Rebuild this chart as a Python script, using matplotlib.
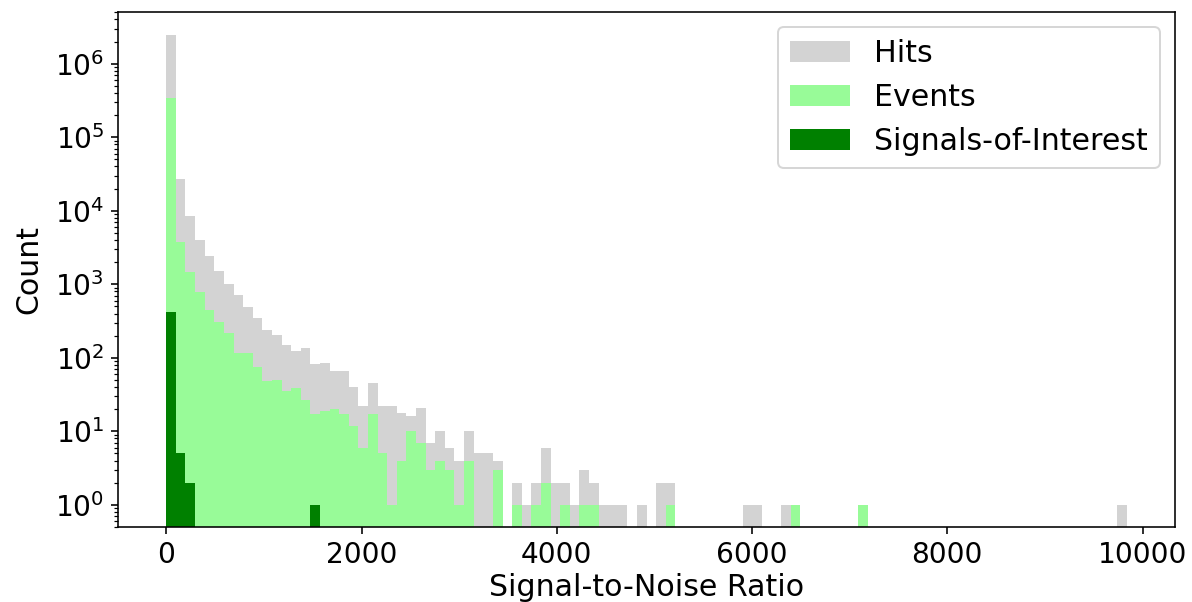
import matplotlib
matplotlib.use("Agg")
import matplotlib.pyplot as plt
import numpy as np

# histogram bin edges, 100 equal bins over the SNR range
snr_min = 0
snr_max = 9840
n_bins = 100

# counts per bin (index = bin number)
hits_counts = [
    2460000, 26800, 8580, 4050, 2450, 1535, 1020, 717, 497, 345,
    240, 205, 150, 122, 135, 82, 84, 66, 66, 40,
    22, 46, 22, 22, 18, 16, 21, 7, 10, 6,
    4, 10, 5, 5, 4, 0, 2, 1, 2, 6,
    2, 2, 1, 3, 2, 1, 1, 1, 0, 1,
    0, 2, 2, 0, 0, 0, 0, 0, 0, 0,
    1, 1, 0, 0, 1, 1, 0, 0, 0, 0,
    0, 0, 1, 0, 0, 0, 0, 0, 0, 0,
    0, 0, 0, 0, 0, 0, 0, 0, 0, 0,
    0, 0, 0, 0, 0, 0, 0, 0, 0, 1,
]
events_counts = [
    345000, 3800, 1458, 795, 448, 311, 216, 115, 115, 74,
    48, 50, 35, 39, 27, 17, 19, 20, 17, 12,
    6, 17, 5, 1, 4, 10, 7, 3, 4, 3,
    1, 4, 0, 0, 3, 0, 1, 0, 1, 2,
    0, 1, 0, 1, 1, 0, 0, 0, 0, 0,
    0, 0, 1, 0, 0, 0, 0, 0, 0, 0,
    0, 0, 0, 0, 0, 1, 0, 0, 0, 0,
    0, 0, 1, 0, 0, 0, 0, 0, 0, 0,
    0, 0, 0, 0, 0, 0, 0, 0, 0, 0,
    0, 0, 0, 0, 0, 0, 0, 0, 0, 0,
]
soi_counts = [417, 5, 2] + [0] * 12 + [1] + [0] * 84

series_labels = ["Hits", "Events", "Signals-of-Interest"]
series_colors = ["lightgray", "palegreen", "green"]

plt.rcParams["font.size"] = 15
plt.rcParams["xtick.labelsize"] = 14
plt.rcParams["ytick.labelsize"] = 14

edges = np.linspace(snr_min, snr_max, n_bins + 1)
centers = 0.5 * (edges[:-1] + edges[1:])

fig = plt.figure(figsize=(1192 / 144, 602 / 144), dpi=144)
ax = fig.add_axes([0.0992, 0.1246, 0.8865, 0.8555])

# draw each series as its own histogram on top of the previous one
for counts, label, color in zip([hits_counts, events_counts, soi_counts],
                                series_labels, series_colors):
    ax.hist(centers, bins=edges, weights=counts, color=color, label=label, log=True)

ax.set_ylim(0.5, 5.05e6)
ax.set_xlabel("Signal-to-Noise Ratio", labelpad=2)
ax.set_ylabel("Count", labelpad=6)
ax.legend(loc="upper right")

fig.savefig("out.png", dpi=144)
